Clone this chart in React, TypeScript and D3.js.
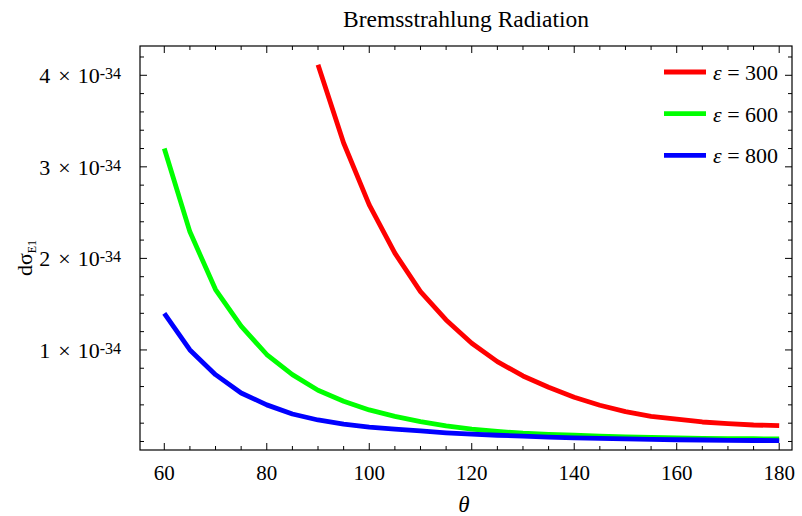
import * as d3 from "d3";

// theta in degrees, cross sections in units of 1e-34
const thetaGreenBlue = [60, 65, 70, 75, 80, 85, 90, 95, 100, 105, 110, 115, 120, 125, 130, 135, 140, 145, 150, 155, 160, 165, 170, 175, 180];
const thetaRed = [90, 95, 100, 105, 110, 115, 120, 125, 130, 135, 140, 145, 150, 155, 160, 165, 170, 175, 180];

const eps300 = [4.115, 3.26, 2.585, 2.057, 1.637, 1.328, 1.073, 0.872, 0.716, 0.592, 0.483, 0.396, 0.326, 0.275, 0.243, 0.213, 0.195, 0.18, 0.173];
const eps600 = [3.2, 2.29, 1.66, 1.26, 0.95, 0.73, 0.56, 0.44, 0.345, 0.275, 0.218, 0.17, 0.135, 0.11, 0.09, 0.078, 0.068, 0.058, 0.05, 0.044, 0.04, 0.035, 0.032, 0.03, 0.028];
const eps800 = [1.4, 1.0, 0.73, 0.53, 0.4, 0.3, 0.235, 0.19, 0.158, 0.135, 0.115, 0.095, 0.08, 0.068, 0.058, 0.048, 0.04, 0.034, 0.028, 0.023, 0.019, 0.016, 0.013, 0.011, 0.01];

const legendLabels = ["300", "600", "800"];
const colors = ["#ff0000", "#00ff00", "#0000ff"];

const xMajor = [60, 80, 100, 120, 140, 160, 180];
const yMajor = [1, 2, 3, 4];

const font = "'Liberation Serif', 'Times New Roman', serif";

export default function App() {
  const left = 140, right = 792, top = 46, bottom = 450;

  const x = d3.scaleLinear().domain([55.26, 182.5]).range([left, right]);
  const y = d3.scaleLinear().domain([-0.093, 4.32]).range([bottom, top]);

  const line = d3.line<[number, number]>()
    .x((d) => x(d[0]))
    .y((d) => y(d[1]));

  const series = [
    thetaRed.map((t, i) => [t, eps300[i]] as [number, number]),
    thetaGreenBlue.map((t, i) => [t, eps600[i]] as [number, number]),
    thetaGreenBlue.map((t, i) => [t, eps800[i]] as [number, number]),
  ];

  const xMinor = d3.range(60, 181, 5).filter((v) => !xMajor.includes(v));
  const yMinor = d3.range(0, 4.3, 0.2).filter((v) => !yMajor.some((m) => Math.abs(m - v) < 1e-6));

  return (
    <svg width={802} height={516} style={{ position: "absolute", left: 0, top: 0, background: "#fff" }} fontFamily={font}>
      <text x={(left + right) / 2} y={27} textAnchor="middle" fontSize={23.5}>Bremsstrahlung Radiation</text>

      {/* curves */}
      <defs>
        <clipPath id="clip"><rect x={left} y={top} width={right - left} height={bottom - top} /></clipPath>
      </defs>
      <g clipPath="url(#clip)">
        {series.map((s, i) => (
          <path key={i} d={line(s) ?? ""} fill="none" stroke={colors[i]} strokeWidth={4.8} strokeLinejoin="round" />
        ))}
      </g>

      {/* frame */}
      <rect x={left} y={top} width={right - left} height={bottom - top} fill="none" stroke="#000" strokeWidth={1.2} />

      {/* x ticks bottom & top */}
      {xMajor.map((v) => (
        <g key={"xM" + v}>
          <line x1={x(v)} x2={x(v)} y1={bottom} y2={bottom - 7} stroke="#000" />
          <line x1={x(v)} x2={x(v)} y1={top} y2={top + 7} stroke="#000" />
          <text x={x(v)} y={480} textAnchor="middle" fontSize={21}>{v}</text>
        </g>
      ))}
      {xMinor.map((v) => (
        <g key={"xm" + v}>
          <line x1={x(v)} x2={x(v)} y1={bottom} y2={bottom - 4} stroke="#000" />
          <line x1={x(v)} x2={x(v)} y1={top} y2={top + 4} stroke="#000" />
        </g>
      ))}

      {/* y ticks left & right */}
      {yMajor.map((v) => (
        <g key={"yM" + v}>
          <line x1={left} x2={left + 7} y1={y(v)} y2={y(v)} stroke="#000" />
          <line x1={right} x2={right - 7} y1={y(v)} y2={y(v)} stroke="#000" />
          <text x={121} y={y(v) + 8} textAnchor="end" fontSize={22}>
            {v}<tspan dx={8}>×</tspan><tspan dx={7}>10</tspan><tspan fontSize={16} dy={-4}>-34</tspan>
          </text>
        </g>
      ))}
      {yMinor.map((v) => (
        <g key={"ym" + v.toFixed(1)}>
          <line x1={left} x2={left + 4} y1={y(v)} y2={y(v)} stroke="#000" />
          <line x1={right} x2={right - 4} y1={y(v)} y2={y(v)} stroke="#000" />
        </g>
      ))}

      {/* axis labels */}
      <text x={464} y={512} textAnchor="middle" fontSize={23} fontStyle="italic">θ</text>
      <text transform="translate(32,258) rotate(-90)" textAnchor="middle" fontSize={22}>
        dσ<tspan fontSize={12} dy={4}>E1</tspan>
      </text>

      {/* legend */}
      {legendLabels.map((lab, i) => {
        const ly = 72 + i * 41.7;
        return (
          <g key={lab}>
            <line x1={664} x2={706} y1={ly} y2={ly} stroke={colors[i]} strokeWidth={4.8} />
            <text x={713} y={ly + 8} fontSize={22}>
              <tspan fontStyle="italic">ε</tspan> = {lab}
            </text>
          </g>
        );
      })}
    </svg>
  );
}
